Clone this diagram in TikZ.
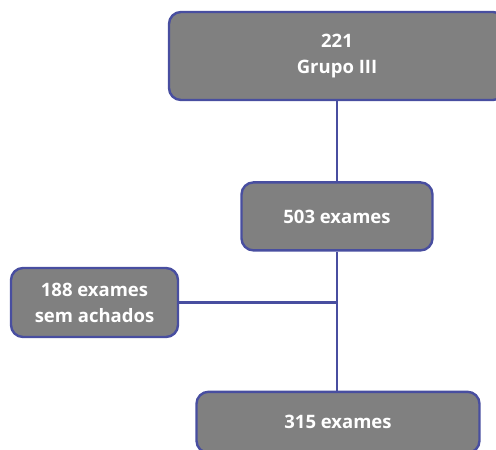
\documentclass[tikz,border=0pt]{standalone}
\usepackage{fontspec}
\setmainfont{Open Sans}
\usepackage{tikz}
\usetikzlibrary{positioning}
\definecolor{boxgray}{RGB}{128,128,128}
\definecolor{boxblue}{RGB}{72,78,160}

\begin{document}
\begin{tikzpicture}[x=1pt, y=1pt,
  stage/.style={rectangle, rounded corners=12pt, draw=boxblue, fill=boxgray, line width=2.4pt, text=white, align=center, font=\fontsize{18.5}{26}\selectfont\bfseries, inner sep=0pt},
  link/.style={draw=boxblue, line width=2.2pt}
]
\useasboundingbox (0,0) rectangle (496,-450);
\node[stage, minimum width=336pt, minimum height=88pt] (grupo) at (337,-56) {221\\Grupo III};
\node[stage, minimum width=191pt, minimum height=68pt, below=80pt of grupo] (total) {503 exames};
\node[stage, minimum width=283pt, minimum height=61pt, below=139pt of total, xshift=1pt] (achados) {315 exames};
\node[stage, minimum width=167pt, minimum height=69pt] (sem) at (94.5,-302.5) {188 exames\\sem achados};
\coordinate (juncao) at (sem.east -| total.south);
\draw[link] (grupo) -- (total);
\draw[link] (total.south) -- (total.south |- achados.north);
\draw[link] (sem.east) -- (juncao);
\end{tikzpicture}
\end{document}
